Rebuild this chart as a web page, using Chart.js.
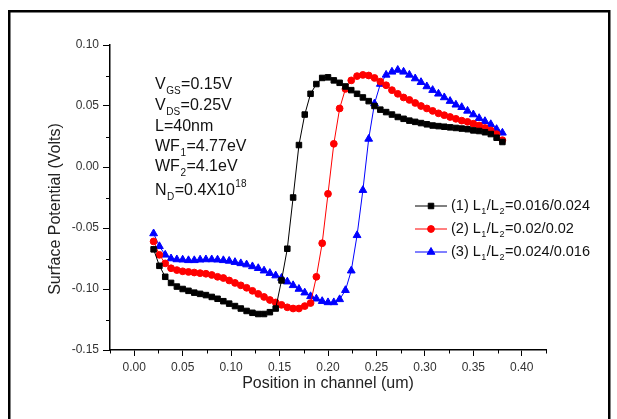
<!DOCTYPE html>
<html><head><meta charset="utf-8">
<script src="https://cdn.jsdelivr.net/npm/chart.js@4/dist/chart.umd.min.js"></script>
<style>html,body{margin:0;padding:0;background:#fff;}canvas{display:block;}</style>
</head><body>
<canvas id="c" width="617" height="419"></canvas>
<script>
// ---- data ----
const positions = [0.020,0.026,0.032,0.038,0.044,0.050,0.056,0.062,0.068,0.074,0.080,0.086,0.092,0.098,0.104,0.110,0.116,0.122,0.128,0.134,0.140,0.146,0.152,0.158,0.164,0.170,0.176,0.182,0.188,0.194,0.200,0.206,0.212,0.218,0.224,0.230,0.236,0.242,0.248,0.254,0.260,0.266,0.272,0.278,0.284,0.290,0.296,0.302,0.308,0.314,0.320,0.326,0.332,0.338,0.344,0.350,0.356,0.362,0.368,0.374,0.380];
const potential1 = [-0.0675,-0.081,-0.090,-0.095,-0.098,-0.100,-0.1015,-0.103,-0.104,-0.105,-0.1065,-0.108,-0.110,-0.112,-0.114,-0.116,-0.118,-0.1195,-0.1205,-0.1205,-0.119,-0.116,-0.093,-0.067,-0.025,0.018,0.043,0.060,0.068,0.073,0.0735,0.071,0.069,0.066,0.063,0.060,0.057,0.054,0.050,0.047,0.045,0.043,0.041,0.0395,0.038,0.037,0.036,0.035,0.034,0.0335,0.033,0.0325,0.032,0.0315,0.031,0.030,0.0295,0.0285,0.027,0.024,0.0205];
const potential2 = [-0.061,-0.072,-0.079,-0.083,-0.0845,-0.0855,-0.086,-0.0865,-0.087,-0.0875,-0.0885,-0.090,-0.091,-0.093,-0.095,-0.097,-0.099,-0.1015,-0.104,-0.1065,-0.109,-0.111,-0.113,-0.115,-0.116,-0.116,-0.114,-0.1115,-0.090,-0.0625,-0.022,0.019,0.048,0.064,0.071,0.0745,0.0755,0.075,0.073,0.070,0.067,0.063,0.060,0.057,0.055,0.0525,0.050,0.048,0.046,0.044,0.0425,0.041,0.0395,0.038,0.037,0.0355,0.034,0.032,0.030,0.027,0.022];
const potential3 = [-0.0545,-0.065,-0.072,-0.075,-0.0758,-0.076,-0.0765,-0.0765,-0.076,-0.0758,-0.0758,-0.076,-0.0765,-0.077,-0.078,-0.079,-0.080,-0.0815,-0.083,-0.085,-0.087,-0.089,-0.091,-0.094,-0.097,-0.100,-0.103,-0.106,-0.108,-0.110,-0.111,-0.111,-0.1085,-0.101,-0.085,-0.056,-0.019,0.023,0.052,0.068,0.0755,0.078,0.0795,0.078,0.0755,0.0725,0.0695,0.066,0.063,0.060,0.057,0.054,0.051,0.049,0.046,0.043,0.040,0.0375,0.035,0.031,0.028];
const seriesNames = ['(1) L_1/L_2=0.016/0.024', '(2) L_1/L_2=0.02/0.02', '(3) L_1/L_2=0.024/0.016'];
const xTickValues = [0.00,0.05,0.10,0.15,0.20,0.25,0.30,0.35,0.40];
const xMinorValues = [-0.025,0.025,0.075,0.125,0.175,0.225,0.275,0.325,0.375,0.425];
const yTickValues = [-0.15,-0.10,-0.05,0.00,0.05,0.10];
const yMinorValues = [-0.125,-0.075,-0.025,0.025,0.075];
const noteLines = ['V_{GS}=0.15V','V_{DS}=0.25V','L=40nm','WF_1=4.77eV','WF_2=4.1eV','N_D=0.4X10^{18}'];
const xTitle = 'Position in channel (um)';
const yTitle = 'Surface Potential (Volts)';

const FONT = "'Liberation Sans', Arial, sans-serif";

function pts(ys){ return positions.map((x,i)=>({x:x, y:ys[i]})); }
function plain(s){ return s.replace(/[_^]\{([^}]*)\}/g,'$1').replace(/[_^](.)/g,'$1'); }

function parseRich(s){
  const out=[]; let i=0, buf='';
  while(i<s.length){
    const c=s[i];
    if((c==='_'||c==='^') && i+1<s.length){
      if(buf){out.push({t:buf,k:0});buf='';}
      let t;
      if(s[i+1]==='{'){const j=s.indexOf('}',i+2); t=s.slice(i+2,j); i=j+1;}
      else {t=s[i+1]; i+=2;}
      out.push({t:t,k:c==='_'?-1:1});
    } else {buf+=c;i++;}
  }
  if(buf) out.push({t:buf,k:0});
  return out;
}
function drawRich(ctx, s, x, y, size, color){
  const parts=parseRich(s);
  ctx.save(); ctx.fillStyle=color; ctx.textBaseline='middle'; ctx.textAlign='left';
  for(const p of parts){
    if(p.k===0){ ctx.font=size+'px '+FONT; ctx.fillText(p.t,x,y); x+=ctx.measureText(p.t).width; }
    else { const ss=Math.round(size*0.6); ctx.font=ss+'px '+FONT;
      const dy = p.k<0 ? size*0.38 : -size*0.42;
      ctx.fillText(p.t,x+0.5,y+dy); x+=ctx.measureText(p.t).width+1; }
  }
  ctx.restore();
}

const decor = {
  id:'decor',
  beforeDraw(chart){
    const ctx=chart.ctx; ctx.save();
    ctx.strokeStyle='#000'; ctx.lineWidth=2.5;
    ctx.strokeRect(9.25, 11.25, 600, 430);
    ctx.restore();
  },
  afterDraw(chart){
    const ctx=chart.ctx, xs=chart.scales.x, ys=chart.scales.y;
    ctx.save(); ctx.strokeStyle='#000'; ctx.lineWidth=1;
    const b=xs.top, l=ys.right;
    for(const v of xMinorValues){ const p=Math.round(xs.getPixelForValue(v))+0.5; ctx.beginPath(); ctx.moveTo(p,b); ctx.lineTo(p,b+3.5); ctx.stroke(); }
    for(const v of yMinorValues){ const p=Math.round(ys.getPixelForValue(v))+0.5; ctx.beginPath(); ctx.moveTo(l,p); ctx.lineTo(l-4,p); ctx.stroke(); }
    ctx.restore();
    // y axis title
    ctx.save(); ctx.translate(56, 209); ctx.rotate(-Math.PI/2);
    ctx.font='16px '+FONT; ctx.fillStyle='#222'; ctx.textAlign='center'; ctx.textBaseline='middle';
    ctx.fillText(yTitle,0,0); ctx.restore();
    // notes
    const noteY=[85,106,127,147,167,191];
    noteLines.forEach((s,i)=>drawRich(ctx,s,155,noteY[i],16,'#111'));
    // legend
    const rows=[206,229,252];
    chart.data.datasets.forEach((ds,i)=>{
      const y=rows[i];
      ctx.save(); ctx.strokeStyle=ds.borderColor; ctx.lineWidth=1;
      ctx.beginPath(); ctx.moveTo(415,y); ctx.lineTo(447,y); ctx.stroke();
      ctx.fillStyle=ds.pointBackgroundColor; ctx.strokeStyle=ds.pointBorderColor; ctx.lineWidth=ds.pointBorderWidth;
      Chart.helpers.drawPoint(ctx,{pointStyle:ds.pointStyle,radius:ds.pointRadius,borderWidth:ds.pointBorderWidth,rotation:0},431,y);
      ctx.restore();
      drawRich(ctx, seriesNames[i], 451, y, 14.5, '#111');
    });
  }
};

const mk=(i,ys,color,style,r)=>({
  label: plain(seriesNames[i]), data: pts(ys), showLine:true,
  borderColor:color, borderWidth:1, backgroundColor:color,
  pointStyle:style, pointRadius:r, pointBackgroundColor:color, pointBorderColor:color, pointBorderWidth:1,
  tension:0
});

new Chart(document.getElementById('c'), {
  type:'scatter',
  data:{ datasets:[
    mk(0,potential1,'#000000','rect',3.9),
    mk(1,potential2,'#ff0000','circle',3.4),
    mk(2,potential3,'#0000ff','triangle',4.5)
  ]},
  options:{
    responsive:false, animation:false, devicePixelRatio:1,
    layout:{padding:{left:0,top:45,right:71,bottom:0}},
    plugins:{legend:{display:false}, tooltip:{enabled:false}},
    scales:{
      x:{ type:'linear', min:-0.025, max:0.425,
        afterBuildTicks:s=>{ s.ticks = xTickValues.map(v=>({value:v})); },
        afterFit:s=>{ s.height=69; },
        ticks:{ callback:v=>Number(v).toFixed(2), font:{family:FONT,size:12}, color:'#333', padding:4, maxRotation:0, autoSkip:false },
        grid:{ display:true, drawOnChartArea:false, drawTicks:true, tickLength:6, color:'#000', lineWidth:1 },
        border:{ display:true, color:'#000', width:1.5 },
        title:{ display:true, text:xTitle, font:{family:FONT,size:16}, color:'#222', padding:{top:0,bottom:26} }
      },
      y:{ type:'linear', min:-0.15, max:0.10,
        afterBuildTicks:s=>{ s.ticks = yTickValues.map(v=>({value:v})); },
        afterFit:s=>{ s.width=110; },
        ticks:{ callback:v=>Number(v).toFixed(2), font:{family:FONT,size:12}, color:'#333', padding:4 },
        grid:{ display:true, drawOnChartArea:false, drawTicks:true, tickLength:7, color:'#000', lineWidth:1 },
        border:{ display:true, color:'#000', width:1.5 },
        title:{ display:false }
      }
    }
  },
  plugins:[decor]
});
</script>
</body></html>
